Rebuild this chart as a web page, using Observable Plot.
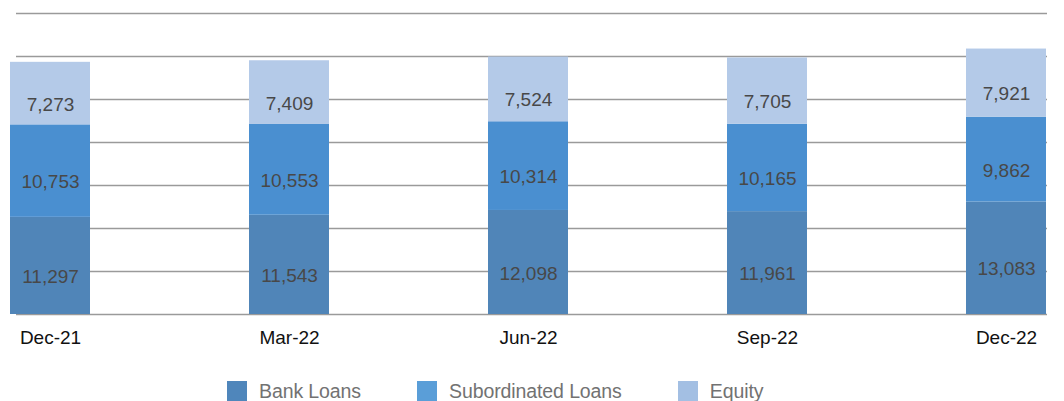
<!DOCTYPE html>
<html>
<head>
<meta charset="utf-8">
<script src="https://cdn.jsdelivr.net/npm/d3@7"></script>
<script src="https://cdn.jsdelivr.net/npm/@observablehq/plot@0.6"></script>
<style>
  html, body { margin: 0; padding: 0; background: #fff; }
  body { width: 1064px; height: 401px; overflow: hidden; font-family: "Liberation Sans", Arial, sans-serif; }
  #legend { display: flex; align-items: center; padding-top: 11px; margin-left: 227px; height: 20px; }
  .item { display: flex; align-items: center; margin-right: 56px; }
  .swatch { width: 20px; height: 20px; margin-right: 12px; }
  .label { font-size: 19.5px; color: #727272; letter-spacing: -0.1px; line-height: 20px; }
</style>
</head>
<body>
<div id="chart"></div>
<div id="legend"></div>
<script>
// Quarter-end funding mix
const quarters = ["Dec-21", "Mar-22", "Jun-22", "Sep-22", "Dec-22"];
const series = ["Bank Loans", "Subordinated Loans", "Equity"];
const bankLoans = [11297, 11543, 12098, 11961, 13083];
const subordinatedLoans = [10753, 10553, 10314, 10165, 9862];
const equity = [7273, 7409, 7524, 7705, 7921];
const gridTicks = [0, 5000, 10000, 15000, 20000, 25000, 30000, 35000];
const colors = ["#5085b8", "#4a8fd0", "#b4cae8"];
const legendColors = ["#4f86bb", "#5a9ed8", "#a3bfe3"];

const valuesBySeries = [bankLoans, subordinatedLoans, equity];
const rows = [];
series.forEach((s, si) => {
  quarters.forEach((q, qi) => {
    rows.push({quarter: q, series: s, value: valuesBySeries[si][qi]});
  });
});

const fmt = d3.format(",");

const chart = Plot.plot({
  width: 1064,
  height: 370,
  marginTop: 13,
  marginBottom: 56,
  marginLeft: 8,
  marginRight: 17,
  style: {fontFamily: "'Liberation Sans', Arial, sans-serif", background: "#fff"},
  x: {
    type: "band",
    domain: quarters,
    paddingInner: 0.6664,
    paddingOuter: 0,
    label: null
  },
  y: {domain: [0, 35000], axis: null},
  color: {domain: series, range: colors},
  marks: [
    Plot.ruleY(gridTicks, {stroke: "#9a9a9a", strokeWidth: 1.3, insetLeft: 8}),
    Plot.barY(rows, {x: "quarter", y: "value", fill: "series", z: "series", order: series}),
    Plot.text(rows, Plot.stackY({
      x: "quarter",
      y: "value",
      z: "series",
      order: series,
      text: d => fmt(d.value),
      fill: "#484848",
      fontSize: 19,
      dy: 11,
      style: {letterSpacing: "-1px"}
    })),
    Plot.axisX({
      tickSize: 0,
      tickPadding: 16,
      fontSize: 19,
      color: "#111",
      label: null
    })
  ]
});
document.getElementById("chart").appendChild(chart);

// Legend built from the series names and swatch colours
const legend = d3.select("#legend");
series.forEach((s, i) => {
  const item = legend.append("div").attr("class", "item");
  item.append("div").attr("class", "swatch").style("background", legendColors[i]);
  item.append("span").attr("class", "label").text(s);
});
</script>
</body>
</html>
